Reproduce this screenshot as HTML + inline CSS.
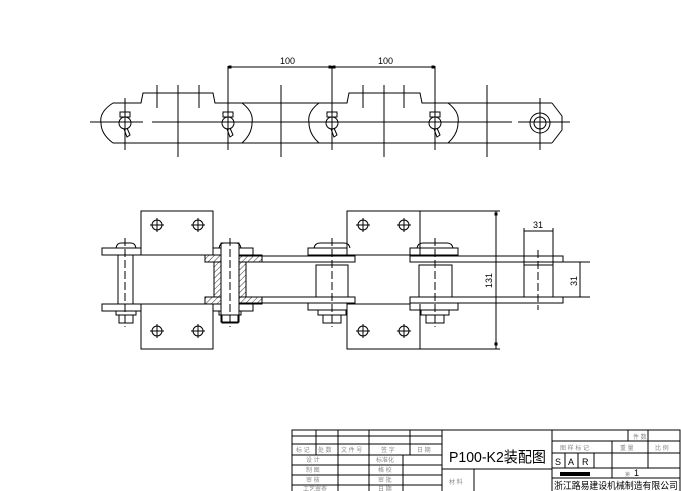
<!DOCTYPE html>
<html><head><meta charset="utf-8"><style>
html,body{margin:0;padding:0;background:#fff;}
svg{display:block;}
text{font-family:"Liberation Sans","Noto Sans CJK SC",sans-serif;}
</style></head><body>
<svg width="681" height="491" viewBox="0 0 681 491" xmlns="http://www.w3.org/2000/svg">
<defs>
<pattern id="h" width="4" height="4" patternUnits="userSpaceOnUse" patternTransform="rotate(45)">
<line x1="0" y1="0" x2="0" y2="4" stroke="#000" stroke-width="0.8"/></pattern>
</defs>
<g stroke="#000" stroke-width="1" fill="none">
<path d="M113,103 H141 L143,93 H213 L215,103 H347 L349,93 H420 L422,103 H552"/>
<line x1="113" y1="143" x2="552" y2="143"/>
<path d="M113,103 Q99,112 101,123 Q101,134 113,143"/>
<path d="M242,103 Q254,112 252,123 Q252,134 242,143"/>
<path d="M319,103 Q307,112 309,123 Q309,134 319,143"/>
<path d="M448,103 Q460,112 458,123 Q458,134 448,143"/>
<path d="M552,103 L562,116 V130 L552,143"/>
<line x1="90" y1="122" x2="143" y2="122"/>
<line x1="152" y1="122" x2="512" y2="122"/>
<line x1="518" y1="122" x2="570" y2="122"/>
<g>
<line x1="125" y1="98" x2="125" y2="150"/>
<line x1="157" y1="85" x2="157" y2="108"/>
<line x1="178" y1="85" x2="178" y2="157"/>
<line x1="199" y1="85" x2="199" y2="108"/>
<line x1="228" y1="66" x2="228" y2="150"/>
<line x1="281" y1="85" x2="281" y2="157"/>
<line x1="332" y1="66" x2="332" y2="150"/>
<line x1="363" y1="85" x2="363" y2="108"/>
<line x1="384" y1="85" x2="384" y2="157"/>
<line x1="404" y1="85" x2="404" y2="108"/>
<line x1="435" y1="66" x2="435" y2="150"/>
<line x1="487" y1="85" x2="487" y2="157"/>
<line x1="540" y1="98" x2="540" y2="150"/>
</g>
<g>
<rect x="120" y="112" width="10" height="5"/><circle cx="125" cy="123" r="6"/><path d="M124,129 L127,137 L130,135 L127,128"/>
<rect x="223" y="112" width="10" height="5"/><circle cx="228" cy="123" r="6"/><path d="M227,129 L230,137 L233,135 L230,128"/>
<rect x="327" y="112" width="10" height="5"/><circle cx="332" cy="123" r="6"/><path d="M331,129 L334,137 L337,135 L334,128"/>
<rect x="430" y="112" width="10" height="5"/><circle cx="435" cy="123" r="6"/><path d="M434,129 L437,137 L440,135 L437,128"/>
<circle cx="540" cy="123" r="10"/><circle cx="540" cy="123" r="6"/>
</g>
<line x1="228" y1="67" x2="435" y2="67"/>
<rect x="229" y="66" width="2" height="2" fill="#000"/><rect x="329" y="66" width="2" height="2" fill="#000"/>
<rect x="333" y="66" width="2" height="2" fill="#000"/><rect x="432" y="66" width="2" height="2" fill="#000"/>

<path d="M141,255 V211 H213 V255"/><path d="M141,304 V349 H213 V304"/>
<path d="M347,255 V211 H420 V255"/><path d="M347,304 V349 H420 V304"/>
<line x1="420" y1="211" x2="500" y2="211"/><line x1="420" y1="349" x2="500" y2="349"/>
<g>
<circle cx="157" cy="225" r="5"/><path d="M150,225 H164 M157,218 V232"/>
<circle cx="198" cy="225" r="5"/><path d="M191,225 H205 M198,218 V232"/>
<circle cx="157" cy="331" r="5"/><path d="M150,331 H164 M157,324 V338"/>
<circle cx="198" cy="331" r="5"/><path d="M191,331 H205 M198,324 V338"/>
<circle cx="363" cy="225" r="5"/><path d="M356,225 H370 M363,218 V232"/>
<circle cx="404" cy="225" r="5"/><path d="M397,225 H411 M404,218 V232"/>
<circle cx="363" cy="331" r="5"/><path d="M356,331 H370 M363,324 V338"/>
<circle cx="404" cy="331" r="5"/><path d="M397,331 H411 M404,324 V338"/>
</g>
<line x1="141" y1="255" x2="213" y2="255"/><line x1="141" y1="304" x2="213" y2="304"/>
<line x1="347" y1="255" x2="410" y2="255"/><line x1="347" y1="304" x2="410" y2="304"/>
<rect x="238" y="256" width="117" height="6"/><rect x="238" y="297" width="117" height="6"/>
<rect x="410" y="256" width="153" height="6"/><rect x="410" y="297" width="153" height="6"/>
<rect x="102" y="248" width="39" height="7"/><rect x="102" y="304" width="39" height="7"/>
<rect x="308" y="248" width="39" height="7"/><rect x="308" y="303" width="39" height="7"/>
<rect x="410" y="248" width="48" height="7"/><rect x="410" y="303" width="48" height="7"/>
<rect x="213" y="248" width="40" height="7"/><rect x="213" y="304" width="40" height="7"/>
<rect x="205" y="255" width="57" height="7" fill="url(#h)"/>
<rect x="205" y="297" width="57" height="7" fill="url(#h)"/>
<rect x="214" y="262" width="7" height="35" fill="url(#h)"/>
<rect x="239" y="262" width="7" height="35" fill="url(#h)"/>
<rect x="221" y="243" width="18" height="79" fill="#fff"/>
<rect x="118" y="255" width="15" height="49"/>
<path d="M116,248 Q117,243 121,243 H131 Q135,243 136,248"/>
<path d="M116,311 V315 H136 V311 M119,315 V323 H133 V315"/>
<path d="M219,311 V315 H241 V311 M222,315 V323 H238 V315"/>
<path d="M219,248 Q220,243 224,243 H236 Q240,243 241,248"/>
<rect x="316" y="265" width="32" height="32"/>
<rect x="419" y="265" width="33" height="32"/>
<rect x="524" y="265" width="29" height="32"/>
<path d="M314,248 Q315,243 320,243 H344 Q349,243 350,248"/>
<path d="M417,248 Q418,243 423,243 H447 Q452,243 453,248"/>
<path d="M318,310 V315 H346 V310 M323,315 V323 H341 V315"/>
<path d="M421,310 V315 H449 V310 M426,315 V323 H444 V315"/>
<g stroke-dasharray="8,3">
<line x1="125" y1="238" x2="125" y2="327"/>
<line x1="230" y1="238" x2="230" y2="327"/>
<line x1="332" y1="238" x2="332" y2="327"/>
<line x1="435" y1="238" x2="435" y2="327"/>
<line x1="538" y1="250" x2="538" y2="310"/>
</g>
<line x1="496" y1="211" x2="496" y2="349"/>
<rect x="495" y="213" width="2" height="2" fill="#000"/><rect x="495" y="343" width="2" height="2" fill="#000"/>
<line x1="524" y1="228" x2="524" y2="265"/><line x1="553" y1="228" x2="553" y2="265"/>
<line x1="524" y1="231" x2="553" y2="231"/>
<line x1="553" y1="262" x2="590" y2="262"/><line x1="553" y1="297" x2="590" y2="297"/>
<line x1="580" y1="262" x2="580" y2="297"/>
</g>
<g font-size="9" fill="#000">
<text x="280" y="64">100</text><text x="378" y="64">100</text>
<text x="533" y="228">31</text>
<text transform="translate(492,288) rotate(-90)">131</text>
<text transform="translate(577,286) rotate(-90)">31</text>
</g>

<g stroke="#000" stroke-width="1" fill="none">
<rect x="292" y="430" width="388" height="62"/>
<line x1="442" y1="430" x2="442" y2="491"/>
<line x1="552" y1="430" x2="552" y2="491"/>
<line x1="292" y1="436" x2="442" y2="436"/>
<line x1="292" y1="444" x2="442" y2="444"/>
<line x1="292" y1="455" x2="442" y2="455"/>
<line x1="292" y1="465" x2="442" y2="465"/>
<line x1="292" y1="475" x2="442" y2="475"/>
<line x1="292" y1="485" x2="442" y2="485"/>
<line x1="316" y1="430" x2="316" y2="455"/>
<line x1="338" y1="430" x2="338" y2="491"/>
<line x1="369" y1="430" x2="369" y2="491"/>
<line x1="410" y1="430" x2="410" y2="455"/>
<line x1="403" y1="455" x2="403" y2="491"/>
<line x1="442" y1="469" x2="552" y2="469"/>
<line x1="474" y1="469" x2="474" y2="491"/>
<line x1="552" y1="441" x2="680" y2="441"/>
<line x1="552" y1="453" x2="680" y2="453"/>
<line x1="552" y1="468" x2="680" y2="468"/>
<line x1="552" y1="478" x2="680" y2="478"/>
<line x1="628" y1="430" x2="628" y2="441"/>
<line x1="648" y1="430" x2="648" y2="468"/>
<line x1="612" y1="441" x2="612" y2="478"/>
<line x1="565" y1="453" x2="565" y2="468"/>
<line x1="578" y1="453" x2="578" y2="468"/>
<line x1="594" y1="453" x2="594" y2="468"/>
</g>
<rect x="560" y="472" width="30" height="4" fill="#000"/>
<g font-size="6" fill="#888">
<text x="296" y="452">标 记</text><text x="318" y="452">处 数</text><text x="341" y="452">文 件 号</text><text x="381" y="452">签 字</text><text x="417" y="452">日 期</text>
<text x="306" y="462">设 计</text><text x="376" y="462">标准化</text>
<text x="306" y="472">制 图</text><text x="378" y="472">格 校</text>
<text x="306" y="482">审 核</text><text x="378" y="482">审 批</text>
<text x="303" y="491">工艺审查</text><text x="378" y="491">日 期</text>
<text x="449" y="484">材 料</text>
<text x="633" y="439">件 数</text>
<text x="560" y="450">图 样 标 记</text><text x="620" y="450">重 量</text><text x="655" y="450">比 例</text>
</g>
<text x="449" y="462" font-size="15" fill="#000" textLength="97" lengthAdjust="spacingAndGlyphs">P100-K2装配图</text>
<g font-size="9" fill="#000"><text x="555" y="465">S</text><text x="568" y="465">A</text><text x="582" y="465">R</text>
<text x="634" y="476">1</text></g>
<text x="625" y="476" font-size="5" fill="#888">第</text>
<text x="554" y="489" font-size="9.5" fill="#000" textLength="124" lengthAdjust="spacingAndGlyphs">浙江路易建设机械制造有限公司</text>
</svg>
</body></html>
